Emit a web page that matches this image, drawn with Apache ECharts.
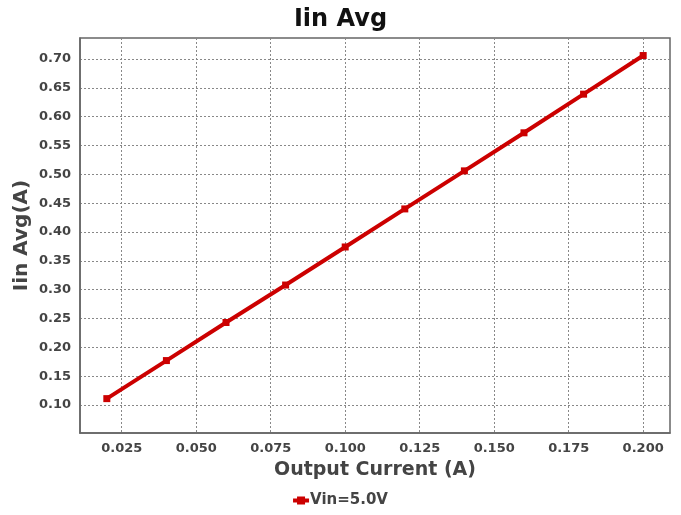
<!DOCTYPE html>
<html><head><meta charset="utf-8">
<script src="https://cdn.jsdelivr.net/npm/echarts@6/dist/echarts.min.js"></script>
<style>html,body{margin:0;padding:0;background:#fff}#c{width:681px;height:515px}</style>
</head><body><div id="c"></div>
<script>
const xValues = [0.02, 0.04, 0.06, 0.08, 0.10, 0.12, 0.14, 0.16, 0.18, 0.20];
const iinAvg = [0.111, 0.177, 0.243, 0.308, 0.374, 0.440, 0.506, 0.572, 0.639, 0.706];
const xTicks = [0.025, 0.05, 0.075, 0.1, 0.125, 0.15, 0.175, 0.2];
const yTicks = [0.10, 0.15, 0.20, 0.25, 0.30, 0.35, 0.40, 0.45, 0.50, 0.55, 0.60, 0.65, 0.70];
const seriesName = 'Vin=5.0V';

const chart = echarts.init(document.getElementById('c'));
const F = 'DejaVu Sans';
chart.setOption({
  animation: false,
  backgroundColor: '#fff',
  title: { text: 'Iin Avg', left: 'center', top: 3,
    textStyle: { fontFamily: F, fontWeight: 'bold', fontSize: 24, color: '#111' } },
  grid: { left: 80, right: 11, top: 38, bottom: 82, show: true, borderColor: '#666', borderWidth: 1.5,
    containLabel: false, outerBoundsMode: 'none' },
  xAxis: {
    type: 'value', min: 0.011, max: 0.209,
    name: 'Output Current (A)', nameLocation: 'middle', nameGap: 28,
    nameTextStyle: { fontFamily: F, fontWeight: 'bold', fontSize: 19, color: '#444' },
    axisLine: { show: true, lineStyle: { color: '#666', width: 1.5 } },
    axisTick: { show: false, customValues: xTicks },
    axisLabel: { customValues: xTicks, fontFamily: F, fontWeight: 'bold', fontSize: 13, color: '#444', margin: 9,
      formatter: v => v.toFixed(3) },
    splitLine: { show: true, lineStyle: { color: '#888', type: [2, 2], width: 1 } }
  },
  yAxis: {
    type: 'value', min: 0.0514, max: 0.7364,
    name: 'Iin Avg(A)', nameLocation: 'middle', nameGap: 48, nameMoveOverlap: false,
    nameTextStyle: { fontFamily: F, fontWeight: 'bold', fontSize: 20, color: '#444' },
    axisLine: { show: true, lineStyle: { color: '#666', width: 1.5 } },
    axisTick: { show: false, customValues: yTicks },
    axisLabel: { customValues: yTicks, fontFamily: F, fontWeight: 'bold', fontSize: 13, color: '#444', margin: 9,
      formatter: v => v.toFixed(2) },
    splitLine: { show: true, lineStyle: { color: '#888', type: [2, 2], width: 1 } }
  },
  legend: {
    bottom: 2, left: 'center', itemWidth: 16, itemHeight: 8, itemGap: 2,
    icon: 'path://M0,2 L4,2 L4,0 L12,0 L12,2 L16,2 L16,6 L12,6 L12,8 L4,8 L4,6 L0,6 Z',
    textStyle: { fontFamily: F, fontWeight: 'bold', fontSize: 15, color: '#444', padding: [0, 0, 0, -4] },
    data: [seriesName]
  },
  series: [{
    name: seriesName, type: 'line',
    data: xValues.map((x, i) => [x, iinAvg[i]]),
    symbol: 'rect', symbolSize: 7,
    lineStyle: { color: '#cc0000', width: 4 },
    itemStyle: { color: '#cc0000' }
  }]
});
</script></body></html>
